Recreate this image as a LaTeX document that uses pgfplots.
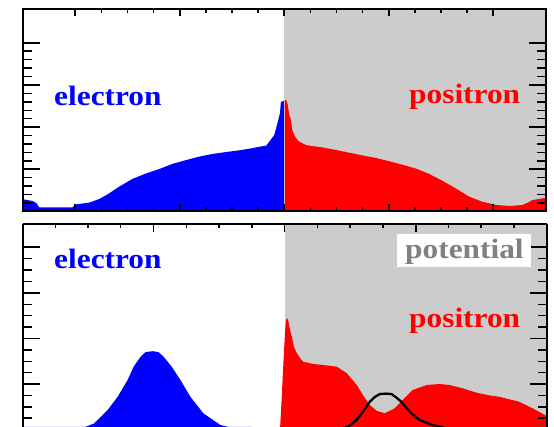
\documentclass[border=0pt]{standalone}
\usepackage{pgfplots}
\pgfplotsset{compat=1.18}
\usepackage{fontspec}
\setmainfont{Liberation Serif}
\definecolor{pgray}{RGB}{204,204,204}
\definecolor{tgray}{RGB}{128,128,128}
\newcommand{\lbl}[1]{\scalebox{1.12}[1]{\fontsize{28}{28}\selectfont\bfseries #1}}
\pgfplotsset{
  panel/.style={
    scale only axis, axis on top, clip=true,
    xticklabels={}, yticklabels={},
    tick label style={inner sep=0pt, font=\tiny},
    tick align=inside,
    axis line style={line width=2pt},
    every tick/.style={black, line width=1.7pt},
    every minor tick/.append style={line width=1.4pt},
    xtick style={/pgfplots/major tick length=7.5pt, /pgfplots/minor tick length=4pt},
    ytick style={/pgfplots/major tick length=17pt, /pgfplots/minor tick length=9pt},
  }
}
\begin{document}
\begin{tikzpicture}
% ---------------- top panel ----------------
\begin{axis}[panel, tick pos=both, at={(23pt,215.5pt)}, anchor=south west,
  width=522.5pt, height=202.5pt,
  xmin=-2.5, xmax=2.5, ymin=0, ymax=4.8,
  xtick={-2,-1,0,1,2}, ytick={0,1,2,3,4},
  minor x tick num=3, minor y tick num=4]
\addplot[fill=pgray, draw=none, mark=none] coordinates {(0,4.8) (2.5,4.8)} \closedcycle;
\addplot[fill=blue, draw=none, mark=none] coordinates {
(-2.5,0.29) (-2.41,0.25) (-2.373,0.20) (-2.345,0.10) (-2.25,0.095) (-2.03,0.095)
(-1.99,0.17) (-1.866,0.21) (-1.77,0.296) (-1.675,0.43) (-1.579,0.59) (-1.455,0.77)
(-1.32,0.905) (-1.196,1.007) (-1.072,1.126) (-0.938,1.22) (-0.813,1.30) (-0.689,1.363)
(-0.555,1.41) (-0.431,1.45) (-0.306,1.50) (-0.239,1.535) (-0.172,1.56) (-0.144,1.654)
(-0.096,1.81) (-0.064,2.10) (-0.041,2.33) (-0.032,2.60) (-0.004,2.62)} \closedcycle;
\addplot[fill=red, draw=none, mark=none] coordinates {
(0.005,2.64) (0.019,2.64) (0.032,2.55) (0.048,2.29) (0.064,2.17) (0.077,1.93)
(0.096,1.81) (0.112,1.74) (0.144,1.654) (0.208,1.576) (0.239,1.56) (0.364,1.52)
(0.498,1.457) (0.622,1.393) (0.746,1.33) (0.88,1.268) (1.005,1.19) (1.129,1.11)
(1.263,1.014) (1.388,0.889) (1.512,0.73) (1.646,0.54) (1.77,0.35) (1.895,0.232)
(2.029,0.154) (2.153,0.13) (2.278,0.154) (2.344,0.225) (2.373,0.27) (2.469,0.31)
(2.5,0.32)} \closedcycle;
\end{axis}
% ---------------- bottom panel (cut at the lower edge) ----------------
\begin{axis}[panel, axis x line*=top, axis y line*=box, at={(22.5pt,0pt)}, anchor=south west,
  width=524.2pt, height=202.5pt,
  xmin=-2, xmax=2, ymin=0.057, ymax=4.5,
  xtick={-2,-1,0,1,2}, ytick={0,1,2,3,4},
  minor x tick num=3, minor y tick num=3]
\addplot[fill=pgray, draw=none, mark=none] coordinates {(0.004,4.5) (2,4.5)} \closedcycle;
\addplot[fill=blue, draw=none, mark=none] coordinates {
(-2,0) (-1.75,0.002) (-1.6,0.015) (-1.53,0.05) (-1.456,0.13) (-1.35,0.43) (-1.274,0.72)
(-1.198,1.088) (-1.152,1.38) (-1.099,1.60) (-1.061,1.70) (-1.008,1.72) (-0.962,1.70)
(-0.924,1.60) (-0.871,1.417) (-0.795,1.088) (-0.719,0.72) (-0.62,0.357) (-0.49,0.10)
(-0.376,0.02) (-0.25,0)} \closedcycle;
\addplot[fill=red, draw=none, mark=none] coordinates {
(-0.038,0) (-0.034,0.057) (-0.023,0.65) (-0.008,1.53) (0.004,2.18) (0.011,2.40)
(0.019,2.45) (0.027,2.40) (0.042,2.18) (0.055,2.04) (0.072,1.81) (0.093,1.68)
(0.118,1.57) (0.141,1.49) (0.217,1.44) (0.293,1.417) (0.399,1.38) (0.475,1.235)
(0.551,0.978) (0.597,0.76) (0.65,0.54) (0.701,0.414) (0.764,0.357) (0.84,0.467)
(0.901,0.65) (0.977,0.868) (1.084,0.978) (1.183,1.0) (1.259,0.978) (1.357,0.906)
(1.464,0.81) (1.563,0.75) (1.639,0.72) (1.79,0.61) (1.89,0.47) (2.0,0.30)} \closedcycle;
\addplot[black, line width=2.3pt, mark=none] coordinates {
(0.40,0) (0.485,0.064) (0.549,0.21) (0.597,0.39) (0.65,0.61) (0.688,0.715) (0.726,0.78)
(0.772,0.79) (0.815,0.78) (0.848,0.715) (0.891,0.61) (0.954,0.39) (1.03,0.21)
(1.129,0.10) (1.221,0.035) (1.335,0)};
\end{axis}
% ---------------- labels ----------------
\node[anchor=base west, inner sep=0, text=blue] at (54pt,321pt) {\lbl{electron}};
\node[anchor=base west, inner sep=0, text=red] at (409pt,323pt) {\lbl{positron}};
\node[anchor=base west, inner sep=0, text=blue] at (54pt,158pt) {\lbl{electron}};
\node[anchor=base west, inner sep=0, text=red] at (409pt,99pt) {\lbl{positron}};
\fill[white] (397pt,159.5pt) rectangle (531pt,193pt);
\node[anchor=base west, inner sep=0, text=tgray] at (405pt,168.7pt) {\lbl{potential}};
\pgfresetboundingbox
\path[use as bounding box] (0pt,0pt) rectangle (554pt,427pt);
\end{tikzpicture}
\end{document}
